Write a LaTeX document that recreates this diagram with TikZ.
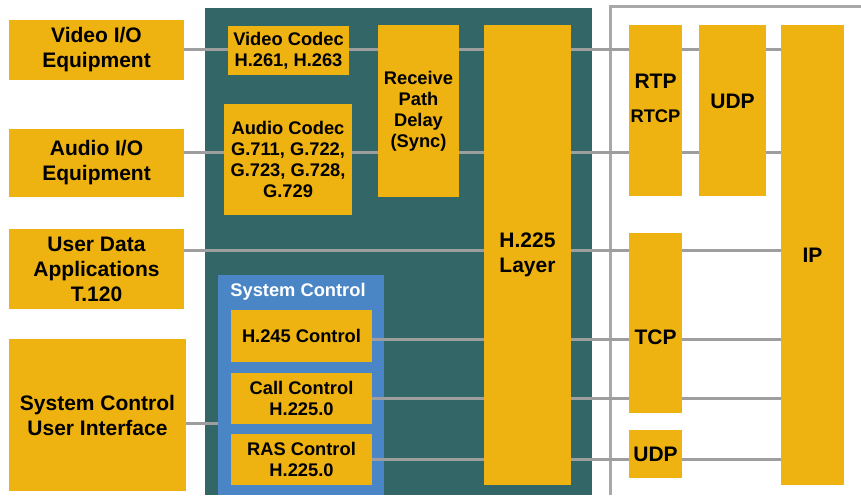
\documentclass[tikz,border=0pt]{standalone}
\usepackage{fontspec}
\setmainfont{Liberation Sans}
\definecolor{boxyellow}{RGB}{238,179,17}
\definecolor{panelteal}{RGB}{51,102,102}
\definecolor{ctrlblue}{RGB}{74,134,197}
\definecolor{wiregray}{RGB}{158,158,158}
\pgfdeclarelayer{back}
\pgfdeclarelayer{wires}
\pgfsetlayers{back,wires,main}

\begin{document}
\begin{tikzpicture}[x=1pt,y=-1pt,
  blk/.style={fill=boxyellow, inner sep=0pt, align=center, font=\bfseries\fontsize{21}{25}\selectfont},
  sblk/.style={blk, font=\bfseries\fontsize{18.3}{21}\selectfont},
  big/.style={font=\bfseries\fontsize{21}{25}\selectfont, inner sep=0pt, anchor=base},
  small/.style={font=\bfseries\fontsize{18.3}{21}\selectfont, inner sep=0pt, anchor=base},
  wire/.style={draw=wiregray, line width=3pt},
  frame/.style={draw=wiregray!90, line width=3pt}]
\useasboundingbox (0,0) rectangle (861,495);

\begin{pgfonlayer}{back}
\fill[panelteal] (205,8) rectangle (592,495);
\node[fill=ctrlblue, inner sep=0pt, minimum width=166pt, minimum height=220pt] (sysctl) at (301,385) {};
\draw[frame] (861,7) -| (610,495);
\end{pgfonlayer}

\node[small, text=white] (sysctltxt) at (298,296) {System Control};

\node[blk, minimum width=175pt, minimum height=60pt] (vio) at (96.5,50) {Video I/O\\Equipment};
\node[blk, minimum width=175pt, minimum height=68pt] (aio) at (96.5,163) {Audio I/O\\Equipment};
\node[blk, minimum width=175pt, minimum height=80pt] (udata) at (96.5,269) {User Data\\Applications\\T.120};
\node[blk, minimum width=177pt, minimum height=152pt] (scui) at (97.5,415) {System Control\\User Interface};

\node[sblk, minimum width=121pt, minimum height=49pt] (vcod) at (288.5,50.5) {Video Codec\\H.261, H.263};
\node[sblk, minimum width=128pt, minimum height=111pt] (acod) at (288,159.5) {Audio Codec\\G.711, G.722,\\G.723, G.728,\\G.729};
\node[sblk, minimum width=81pt, minimum height=172pt] (rpd) at (418.5,111) {Receive\\Path\\Delay\\(Sync)};
\node[blk, minimum width=87pt, minimum height=460pt] (h225) at (527.5,255) {H.225\\Layer};

\node[sblk, minimum width=141pt, minimum height=52pt] (h245) at (301.5,336) {H.245 Control};
\node[sblk, minimum width=141pt, minimum height=51pt] (callc) at (301.5,398.5) {Call Control\\H.225.0};
\node[sblk, minimum width=141pt, minimum height=51pt] (rasc) at (301.5,459.5) {RAS Control\\H.225.0};

\node[blk, minimum width=53pt, minimum height=171pt] (rtp) at (655.5,110.5) {};
\node[big] (rtptxt) at (655.5,88) {RTP};
\node[small] (rtcptxt) at (655.5,122) {RTCP};
\node[blk, minimum width=67pt, minimum height=171pt] (udpa) at (732.5,110.5) {};
\node[big] (udpatxt) at (732.5,108) {UDP};
\node[blk, minimum width=53pt, minimum height=180pt] (tcp) at (655.5,323) {};
\node[big] (tcptxt) at (655.5,344) {TCP};
\node[blk, minimum width=53pt, minimum height=48pt] (udpb) at (655.5,454) {UDP};
\node[blk, minimum width=63pt, minimum height=460pt] (ip) at (812.5,255) {IP};

\coordinate (rowV) at (0,50);
\coordinate (rowA) at (0,152);
\coordinate (rowD) at (0,250);
\coordinate (rowH) at (0,339);
\coordinate (rowC) at (0,398);
\coordinate (rowR) at (0,459);
\coordinate (rowU) at (0,423);

\begin{pgfonlayer}{wires}
\draw[wire] (vio.east |- rowV) -- (ip.west |- rowV);
\draw[wire] (aio.east |- rowA) -- (ip.west |- rowA);
\draw[wire] (udata.east |- rowD) -- (ip.west |- rowD);
\draw[wire] (h245.east |- rowH) -- (ip.west |- rowH);
\draw[wire] (callc.east |- rowC) -- (ip.west |- rowC);
\draw[wire] (rasc.east |- rowR) -- (ip.west |- rowR);
\draw[wire] (scui.east |- rowU) -- (sysctl.west |- rowU);
\end{pgfonlayer}
\end{tikzpicture}
\end{document}
